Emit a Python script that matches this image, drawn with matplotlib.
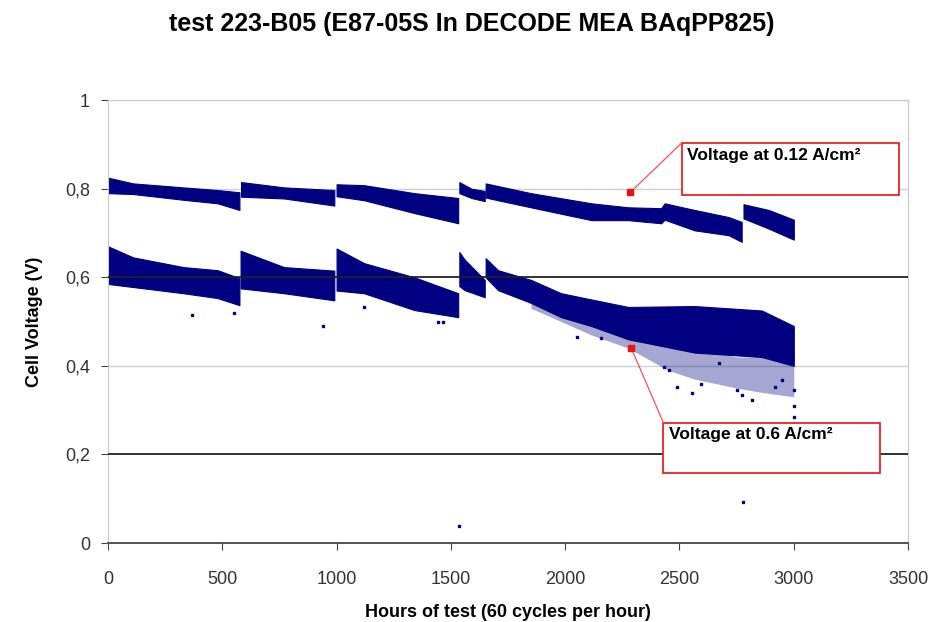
import matplotlib.pyplot as plt
from matplotlib.patches import Rectangle

plt.rcParams['font.family'] = ['Liberation Sans', 'DejaVu Sans']

NAVY = '#000080'

# voltage at 0.12 A/cm2 : band (low / high) per run segment
up_hours = [[0, 110, 330, 480, 575],
            [582, 770, 990],
            [1000, 1120, 1340, 1532],
            [1537, 1590, 1648],
            [1652, 1850, 2115, 2276, 2420, 2435, 2566, 2715, 2772],
            [2780, 2890, 3000]]
up_hi = [[0.825, 0.812, 0.803, 0.797, 0.792],
         [0.815, 0.803, 0.797],
         [0.81, 0.808, 0.79, 0.779],
         [0.815, 0.80, 0.795],
         [0.812, 0.79, 0.767, 0.758, 0.756, 0.767, 0.752, 0.736, 0.725],
         [0.765, 0.752, 0.73]]
up_lo = [[0.79, 0.788, 0.775, 0.767, 0.752],
         [0.782, 0.778, 0.762],
         [0.783, 0.774, 0.745, 0.722],
         [0.79, 0.779, 0.772],
         [0.78, 0.758, 0.729, 0.729, 0.722, 0.73, 0.706, 0.695, 0.68],
         [0.733, 0.71, 0.685]]

# voltage at 0.6 A/cm2
lo_hours = [[0, 110, 330, 480, 575],
            [580, 770, 990],
            [1000, 1120, 1340, 1532],
            [1537, 1560, 1648],
            [1652, 1706, 1851, 1982, 2114, 2276, 2566, 2860, 3000]]
lo_hi = [[0.67, 0.645, 0.623, 0.616, 0.598],
         [0.66, 0.623, 0.615],
         [0.665, 0.632, 0.60, 0.564],
         [0.657, 0.64, 0.594],
         [0.643, 0.616, 0.594, 0.564, 0.55, 0.533, 0.535, 0.525, 0.49]]
lo_lo = [[0.585, 0.578, 0.564, 0.553, 0.537],
         [0.575, 0.564, 0.548],
         [0.57, 0.564, 0.526, 0.51],
         [0.58, 0.571, 0.555],
         [0.60, 0.571, 0.542, 0.51, 0.49, 0.46, 0.43, 0.42, 0.40]]

# sparse fringe below the 0.6 A/cm2 band late in the test
fringe_hours = [1850, 2114, 2276, 2450, 2566, 2750, 2860, 3000]
fringe_lo = [0.53, 0.47, 0.44, 0.39, 0.37, 0.35, 0.34, 0.33]
fringe_hi = [0.56, 0.51, 0.47, 0.45, 0.44, 0.42, 0.42, 0.40]

# scattered single readings
pts_hours = [368, 553, 939, 1118, 1443, 1465, 1535, 2776, 2053, 2158, 2434, 2452,
             2487, 2553, 2596, 2671, 2750, 2772, 2816, 2917, 2947, 3002, 3002, 3003]
pts_v = [0.515, 0.52, 0.49, 0.533, 0.50, 0.498, 0.038, 0.093, 0.465, 0.463, 0.397, 0.39,
         0.352, 0.339, 0.36, 0.406, 0.345, 0.334, 0.323, 0.352, 0.368, 0.345, 0.31, 0.284]

fig = plt.figure(figsize=(9.43, 6.22), dpi=100)
ax = fig.add_axes([0.1145, 0.127, 0.8485, 0.712])

for h, a, b in zip(up_hours, up_lo, up_hi):
    ax.fill_between(h, a, b, color=NAVY, lw=0.8, zorder=2)
for h, a, b in zip(lo_hours, lo_lo, lo_hi):
    ax.fill_between(h, a, b, color=NAVY, lw=0.8, zorder=2)
ax.fill_between(fringe_hours, fringe_lo, fringe_hi, color=NAVY, alpha=0.35, lw=0, zorder=2)
ax.plot(pts_hours, pts_v, 's', color=NAVY, ms=2, zorder=2)

ax.set_xlim(0, 3500)
ax.set_ylim(0, 1)
ax.set_xticks(range(0, 3501, 500))
ax.set_yticks([0, 0.2, 0.4, 0.6, 0.8, 1])
ax.set_yticklabels(['0', '0,2', '0,4', '0,6', '0,8', '1'])
for y in [0.4, 0.8, 1.0]:
    ax.axhline(y, color='#d0d0d0', lw=1, zorder=1)
for y in [0.2, 0.6]:
    ax.axhline(y, color='#222222', lw=1.3, zorder=3)

for s in ['left', 'top', 'right']:
    ax.spines[s].set_color('#c8c8c8')
ax.spines['bottom'].set_color('#444444')
ax.spines['bottom'].set_linewidth(1.3)
ax.tick_params(labelsize=13, labelcolor='#333333', color='#444444', length=5)
ax.tick_params(axis='x', pad=15)
ax.tick_params(axis='y', pad=8)

ax.set_xlabel('Hours of test (60 cycles per hour)', fontsize=13, fontweight='bold', labelpad=12)
ax.set_ylabel('Cell Voltage (V)', fontsize=13, fontweight='bold', labelpad=16)
fig.suptitle('test 223-B05 (E87-05S In DECODE MEA BAqPP825)', fontsize=18,
             fontweight='bold', y=0.98)

# callouts
boxes = [(2509, 0.786, 952, 0.117, 'Voltage at 0.12 A/cm²', (2285, 0.792)),
         (2430, 0.158, 947, 0.113, 'Voltage at 0.6 A/cm²', (2289, 0.44))]
for x0, y0, w, hgt, label, dot in boxes:
    ax.add_patch(Rectangle((x0, y0), w, hgt, facecolor='white', edgecolor='#ee2222',
                           lw=1.3, zorder=4))
    ax.text(x0 + 25, y0 + hgt - 0.01, label, fontsize=12.5, fontweight='bold',
            va='top', ha='left', zorder=5)
    ax.plot([dot[0], x0], [dot[1], y0 + hgt], color='#ff4040', lw=0.8, zorder=5)
    ax.plot(dot[0], dot[1], 's', color='#ee1111', ms=4, zorder=5)

fig.savefig('out.png', dpi=100)
